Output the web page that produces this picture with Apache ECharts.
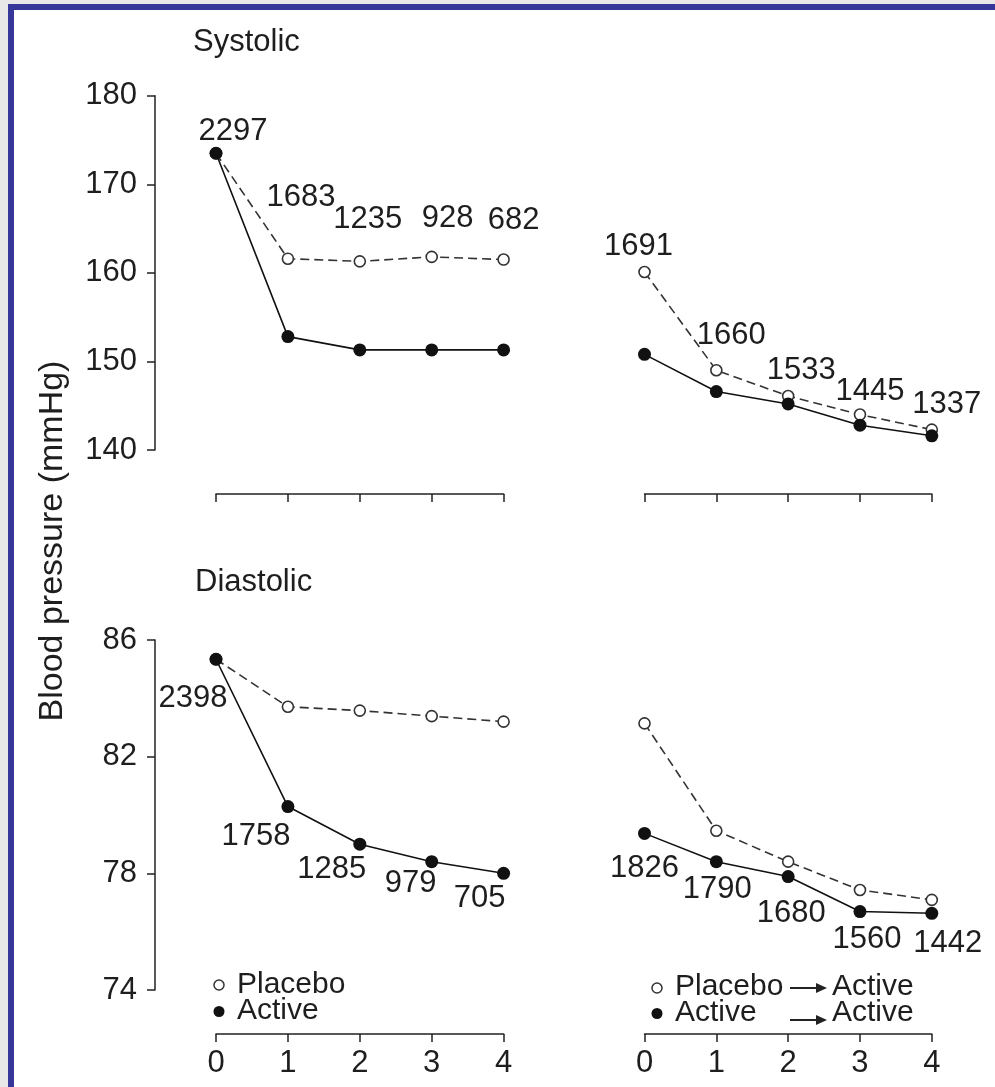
<!DOCTYPE html>
<html><head><meta charset="utf-8">
<script src="https://cdn.jsdelivr.net/npm/echarts@6/dist/echarts.min.js"></script>
<style>html,body{margin:0;padding:0;background:#fff;}#c{width:995px;height:1087px;}</style>
</head><body><div id="c"></div>
<script>
// ---- data ----
const weeks = [0, 1, 2, 3, 4];
const xTickLabels = ['0', '1', '2', '3', '4'];
const sysPlaceboA = [173.5, 161.6, 161.3, 161.8, 161.5];
const sysActiveA  = [173.5, 152.8, 151.3, 151.3, 151.3];
const sysNA       = [2297, 1683, 1235, 928, 682];
const sysPlaceboB = [160.1, 149.0, 146.1, 144.0, 142.3];
const sysActiveB  = [150.8, 146.6, 145.2, 142.8, 141.6];
const sysNB       = [1691, 1660, 1533, 1445, 1337];
const diaPlaceboA = [85.34, 83.71, 83.58, 83.39, 83.2];
const diaActiveA  = [85.34, 80.29, 79.0, 78.4, 78.0];
const diaNA       = [2398, 1758, 1285, 979, 705];
const diaPlaceboB = [83.14, 79.46, 78.4, 77.43, 77.09];
const diaActiveB  = [79.37, 78.4, 77.89, 76.69, 76.63];
const diaNB       = [1826, 1790, 1680, 1560, 1442];
const sysRange = [140, 180, 10];
const diaRange = [74, 86, 4];
const panelTitles = ['Systolic', 'Diastolic'];
const yTitle = 'Blood pressure (mmHg)';
const legendLeft = ['Placebo', 'Active'];
const legendRight = [['Placebo', 'Active'], ['Active', 'Active']];

// ---- styling (label offsets in px relative to their point) ----
const offSysA = [[17, -22], [13, -61], [8, -42], [16, -38], [10, -39]];
const offSysB = [[-6, -26], [15, -35], [13, -26], [10, -23], [15, -25]];
const offDiaA = [[-23, 39], [-32, 30], [-28, 25], [-21, 22], [-24, 25]];
const offDiaB = [[0, 35], [1, 28], [3, 37], [7, 28], [16, 30]];

const FONT = '"Liberation Sans", Arial, Helvetica, sans-serif';
const TXT = '#1e1e1e';
const AX = '#222';

const chart = echarts.init(document.getElementById('c'), null, {renderer: 'canvas'});

const grids = [
  {left: 216, top: 95.7, width: 287.6, height: 354.3},
  {left: 644.5, top: 95.7, width: 287.3, height: 354.3},
  {left: 216, top: 640, width: 287.6, height: 350},
  {left: 644.5, top: 640, width: 287.3, height: 350}
];

const xAxes = grids.map((g, i) => ({
  type: 'value', gridIndex: i, min: 0, max: 4, interval: 1,
  position: 'bottom', offset: 44,
  axisLine: {show: true, onZero: false, lineStyle: {color: AX, width: 1.5}},
  axisTick: {show: true, inside: false, length: 8, lineStyle: {color: AX, width: 1.5}},
  axisLabel: {show: i >= 2, margin: 14, fontSize: 31, color: TXT, fontFamily: FONT,
    formatter: v => xTickLabels[weeks.indexOf(v)]},
  splitLine: {show: false}
}));

const yAxes = grids.map((g, i) => {
  const r = i < 2 ? sysRange : diaRange;
  const visible = (i % 2 === 0);
  return {
    type: 'value', gridIndex: i, min: r[0], max: r[1], interval: r[2],
    show: visible, position: 'left', offset: 61,
    axisLine: {show: true, onZero: false, lineStyle: {color: AX, width: 1.5}},
    axisTick: {show: true, inside: false, length: 8, lineStyle: {color: AX, width: 1.5}},
    axisLabel: {show: true, margin: 18, fontSize: 31, color: TXT, fontFamily: FONT},
    splitLine: {show: false}
  };
});

function mkData(vals, offs) {
  return weeks.map((w, k) => {
    const d = {value: [w, vals[k]]};
    if (offs) d.label = {offset: offs[k]};
    return d;
  });
}
function labelCfg(ns) {
  return {show: true, position: 'inside', fontSize: 31, color: TXT, fontFamily: FONT,
    align: 'center', verticalAlign: 'middle',
    formatter: p => String(ns[p.dataIndex])};
}
function placebo(i, vals, ns, offs) {
  return {
    type: 'line', name: 'Placebo', xAxisIndex: i, yAxisIndex: i, z: 2,
    data: mkData(vals, ns ? offs : null),
    symbol: 'circle', symbolSize: 11, showSymbol: true,
    itemStyle: {color: '#fff', borderColor: '#333', borderWidth: 1.6},
    lineStyle: {color: '#333', width: 1.6, type: [9, 5]},
    label: ns ? labelCfg(ns) : {show: false},
    emphasis: {disabled: true}, silent: true
  };
}
function active(i, vals, ns, offs) {
  return {
    type: 'line', name: 'Active', xAxisIndex: i, yAxisIndex: i, z: 3,
    data: mkData(vals, ns ? offs : null),
    symbol: 'circle', symbolSize: 13, showSymbol: true,
    itemStyle: {color: '#111', borderColor: '#111', borderWidth: 0},
    lineStyle: {color: '#111', width: 1.6},
    label: ns ? labelCfg(ns) : {show: false},
    emphasis: {disabled: true}, silent: true
  };
}

const series = [
  placebo(0, sysPlaceboA, sysNA, offSysA), active(0, sysActiveA),
  placebo(1, sysPlaceboB, sysNB, offSysB), active(1, sysActiveB),
  placebo(2, diaPlaceboA), active(2, diaActiveA, diaNA, offDiaA),
  placebo(3, diaPlaceboB), active(3, diaActiveB, diaNB, offDiaB)
];

const tStyle = {fontSize: 31, color: TXT, fontWeight: 'normal', fontFamily: FONT};
const gtxt = (x, y, text, extra) => Object.assign({
  type: 'text', x: x, y: y, silent: true,
  style: {text: text, font: '30px ' + FONT, fill: TXT, align: 'left', verticalAlign: 'middle'}
}, extra || {});
const hollow = (cx, cy) => ({type: 'circle', silent: true, shape: {cx, cy, r: 5}, style: {fill: '#fff', stroke: '#333', lineWidth: 1.5}});
const dot = (cx, cy) => ({type: 'circle', silent: true, shape: {cx, cy, r: 5.5}, style: {fill: '#111'}});
const arrow = (x1, x2, y) => ([
  {type: 'line', silent: true, shape: {x1: x1, y1: y, x2: x2 - 9, y2: y}, style: {stroke: '#222', lineWidth: 2}},
  {type: 'polygon', silent: true, shape: {points: [[x2 - 11, y - 5], [x2, y], [x2 - 11, y + 5]]}, style: {fill: '#222'}}
]);

const graphic = [
  {type: 'rect', silent: true, z: -10, shape: {x: 0, y: 0, width: 995, height: 4}, style: {fill: '#e8e8e8'}},
  {type: 'rect', silent: true, z: -10, shape: {x: 0, y: 0, width: 8, height: 1087}, style: {fill: '#e8e8e8'}},
  {type: 'rect', silent: true, z: -9, shape: {x: 8, y: 4, width: 987, height: 6}, style: {fill: '#37379a'}},
  {type: 'rect', silent: true, z: -9, shape: {x: 8, y: 4, width: 6, height: 1083}, style: {fill: '#37379a'}},
  {type: 'text', silent: true, x: 53, y: 541, rotation: Math.PI / 2,
    style: {text: yTitle, font: '34px ' + FONT, fill: TXT, align: 'center', verticalAlign: 'middle'}},
  // left legend
  hollow(219, 985), gtxt(237, 985, legendLeft[0]),
  dot(219, 1011.5), gtxt(237, 1011, legendLeft[1]),
  // right legend
  hollow(657, 988), gtxt(675, 987, legendRight[0][0]),
  ...arrow(790, 827, 988), gtxt(832, 987, legendRight[0][1]),
  dot(657, 1013.5), gtxt(675, 1012.5, legendRight[1][0]),
  ...arrow(790, 827, 1020), gtxt(832, 1012.5, legendRight[1][1])
];

chart.setOption({
  animation: false,
  backgroundColor: '#fff',
  title: [
    {text: panelTitles[0], left: 193, top: 27, padding: 0, textStyle: tStyle},
    {text: panelTitles[1], left: 195, top: 567, padding: 0, textStyle: tStyle}
  ],
  grid: grids,
  xAxis: xAxes,
  yAxis: yAxes,
  series: series,
  graphic: graphic
});
</script></body></html>
